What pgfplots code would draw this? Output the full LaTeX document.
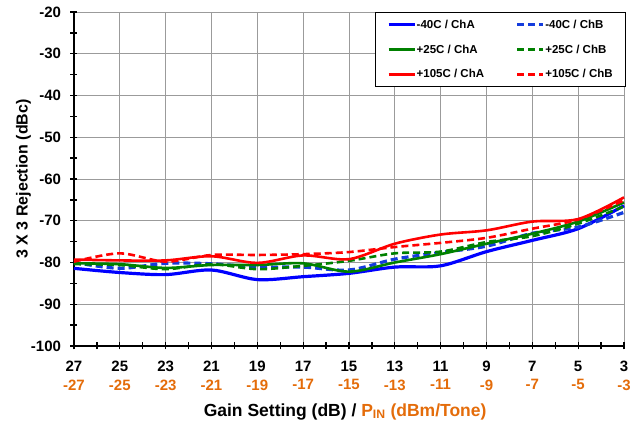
\documentclass[border=0pt]{standalone}
\usepackage{fontspec}
\setmainfont{Liberation Sans}
\usepackage{pgfplots}
\pgfplotsset{compat=1.18}

\definecolor{pinorange}{RGB}{228,108,10}
\definecolor{cblue}{RGB}{0,0,255}
\definecolor{cblueb}{RGB}{20,60,220}
\definecolor{cgreen}{RGB}{0,128,0}
\definecolor{cred}{RGB}{255,0,0}
\definecolor{gridgray}{RGB}{155,155,155}

\tikzset{solidser/.style={line width=2.6pt, smooth, tension=0.5},
         dashser/.style={line width=2.6pt, smooth, tension=0.5, dash pattern=on 7pt off 4pt}}

\begin{document}
\begin{tikzpicture}
\begin{axis}[
    scale only axis, width=550pt, height=334pt,
    xmin=-27, xmax=-3, ymin=-100, ymax=-20,
    axis lines*=left, clip=false,
    axis line style={line width=1.6pt, black},
    xtick={-27,-25,...,-3},
    xticklabels={{27\\\textcolor{pinorange}{-27}},{25\\\textcolor{pinorange}{-25}},
      {23\\\textcolor{pinorange}{-23}},{21\\\textcolor{pinorange}{-21}},
      {19\\\textcolor{pinorange}{-19}},{17\\\textcolor{pinorange}{-17}},
      {15\\\textcolor{pinorange}{-15}},{13\\\textcolor{pinorange}{-13}},
      {11\\\textcolor{pinorange}{-11}},{9\\\textcolor{pinorange}{-9}},
      {7\\\textcolor{pinorange}{-7}},{5\\\textcolor{pinorange}{-5}},
      {3\\\textcolor{pinorange}{-3}}},
    ytick={-100,-90,...,-20},
    minor x tick num=1, minor y tick num=1,
    tick align=center, major tick length=7pt, minor tick length=7pt,
    every tick/.style={black, line width=1.3pt},
    grid=major, major grid style={gridgray, line width=0.9pt},
    /pgf/number format/assume math mode=true,
    yticklabel style={font=\bfseries\fontsize{15}{17}\selectfont, xshift=-6pt},
    xticklabel style={font=\bfseries\fontsize{15}{18.5}\selectfont, align=center, yshift=-8pt},
    ylabel={3 X 3 Rejection (dBc)},
    ylabel style={font=\bfseries\fontsize{16}{18}\selectfont, at={(axis description cs:-0.092,0.5)}, anchor=center},
    xlabel={Gain Setting (dB) / \textcolor{pinorange}{P\textsubscript{IN} (dBm/Tone)}},
    xlabel style={font=\bfseries\fontsize{17.5}{19}\selectfont, at={(axis description cs:0.493,-0.197)}, anchor=center},
    legend columns=2, legend cell align=left,
    legend image code/.code={\draw[#1] (0pt,0pt) -- (26pt,0pt);},
    legend style={at={(1.003,1.0)}, anchor=north east, draw=black, line width=0.8pt,
      fill=white, font=\bfseries\fontsize{11.5}{13}\selectfont,
      inner xsep=12pt, inner ysep=6pt, row sep=12pt,
      nodes={inner xsep=0.5pt, inner ysep=1.5pt},
      /tikz/every even column/.append style={column sep=31pt}},
]
% -40C / ChA
\addplot[cblue, solidser, line width=3.2pt] coordinates {(-27,-81.4)(-25,-82.4)(-23,-82.9)(-21,-81.8)(-19,-84.1)(-17,-83.4)(-15,-82.6)(-13,-81.1)(-11,-80.8)(-9,-77.4)(-7,-74.7)(-5,-71.9)(-3,-66.4)};
\addlegendentry{-40C / ChA}
% -40C / ChB
\addplot[cblueb, dashser, line width=3.2pt] coordinates {(-27,-80.0)(-25,-81.4)(-23,-80.2)(-21,-80.3)(-19,-81.1)(-17,-81.1)(-15,-81.8)(-13,-79.2)(-11,-77.6)(-9,-76.1)(-7,-73.0)(-5,-71.5)(-3,-68.0)};
\addlegendentry{-40C / ChB}
% +25C / ChA
\addplot[cgreen, solidser] coordinates {(-27,-80.2)(-25,-80.4)(-23,-81.3)(-21,-80.6)(-19,-80.6)(-17,-80.2)(-15,-82.2)(-13,-80.0)(-11,-78.0)(-9,-75.5)(-7,-73.1)(-5,-70.2)(-3,-65.6)};
\addlegendentry{+25C / ChA}
% +25C / ChB
\addplot[cgreen, dashser] coordinates {(-27,-80.4)(-25,-80.6)(-23,-81.6)(-21,-80.4)(-19,-81.6)(-17,-80.8)(-15,-79.6)(-13,-77.8)(-11,-77.4)(-9,-75.1)(-7,-73.7)(-5,-70.7)(-3,-66.6)};
\addlegendentry{+25C / ChB}
% +105C / ChA
\addplot[cred, solidser] coordinates {(-27,-79.3)(-25,-79.5)(-23,-79.5)(-21,-78.5)(-19,-80.1)(-17,-78.3)(-15,-79.2)(-13,-75.5)(-11,-73.3)(-9,-72.3)(-7,-70.2)(-5,-69.6)(-3,-64.4)};
\addlegendentry{+105C / ChA}
% +105C / ChB
\addplot[cred, dashser] coordinates {(-27,-79.8)(-25,-77.8)(-23,-79.8)(-21,-78.2)(-19,-78.2)(-17,-78.0)(-15,-77.5)(-13,-76.3)(-11,-75.3)(-9,-74.1)(-7,-71.9)(-5,-69.7)(-3,-65.1)};
\addlegendentry{+105C / ChB}
\path (rel axis cs:-0.1345,-0.2365) rectangle (rel axis cs:1.0273,1.0359);
\end{axis}
\end{tikzpicture}
\end{document}
